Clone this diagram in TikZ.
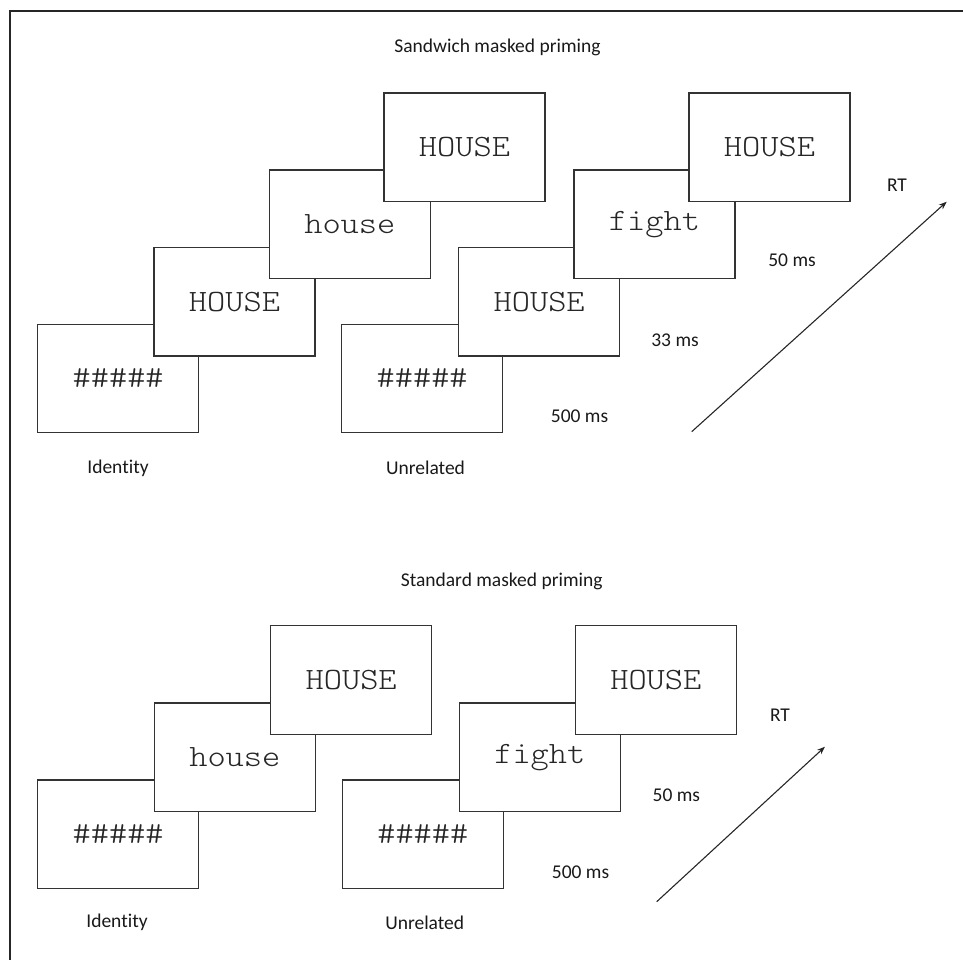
\documentclass[tikz,border=0pt]{standalone}
\usepackage{fontspec}
\setmainfont{Carlito}[Ligatures=NoCommon]
\newfontfamily\monof{lmmonolt10-regular.otf}[FakeStretch=1.12]
\usetikzlibrary{arrows.meta}
\begin{document}
\begin{tikzpicture}[x=1pt,y=-1pt,
  scr/.style={draw=black!80, line width=1.3pt, fill=white, minimum width=161pt, minimum height=108.5pt, inner sep=0pt, font=\monof\fontsize{31}{31}\selectfont, text=black!85, anchor=north west},
  lab/.style={font=\fontsize{19.5}{19.5}\selectfont, inner sep=0pt, text=black!90},
  rt/.style={line width=1.1pt, black!85, -{Stealth[length=8pt,width=6pt]}}]
\useasboundingbox (0,0) rectangle (963,960);
\draw[line width=2pt, black!85] (9.5,960) -- (9.5,10.7) -- (963,10.7);

% Sandwich masked priming
\node[lab] (t1) at (497.5,47.7) {Sandwich masked priming};
% identity
\node[scr] (si1) at (37,323.5) {\#\#\#\#\#};
\node[scr] (si2) at (153.3,246.7) {HOUSE};
\node[scr] (si3) at (268.7,169.3) {house};
\node[scr] (si4) at (383.3,92.3) {HOUSE};
% unrelated
\node[scr] (su1) at (341,323.5) {\#\#\#\#\#};
\node[scr] (su2) at (458,246.7) {HOUSE};
\node[scr] (su3) at (573.3,169.3) {fight};
\node[scr] (su4) at (688.3,92.3) {HOUSE};
\node[lab] (sidl) at (118,468) {Identity};
\node[lab] (sunl) at (425.5,468) {Unrelated};
\node[lab] (s500) at (579.5,416.7) {500 ms};
\node[lab] (s33) at (675,340) {33 ms};
\node[lab] (s50) at (792,260) {50 ms};
\node[lab] (srt) at (897,185) {RT};
\coordinate (sa) at (691.7,431.7);
\coordinate (sb) at (946.7,201.7);
\draw[rt] (sa) -- (sb);

% Standard masked priming
\node[lab] (t2) at (501.7,581) {Standard masked priming};
\node[scr] (ti1) at (37,779.3) {\#\#\#\#\#};
\node[scr] (ti2) at (153.7,702.3) {house};
\node[scr] (ti3) at (270,625) {HOUSE};
\node[scr] (tu1) at (341.7,779.3) {\#\#\#\#\#};
\node[scr] (tu2) at (458.7,702.3) {fight};
\node[scr] (tu3) at (574.7,625) {HOUSE};
\node[lab] (tidl) at (117,922.7) {Identity};
\node[lab] (tunl) at (424.7,922.7) {Unrelated};
\node[lab] (t500) at (580.5,872.3) {500 ms};
\node[lab] (t50) at (676.3,795.7) {50 ms};
\node[lab] (trt) at (780,715.7) {RT};
\coordinate (ta) at (656.7,901.7);
\coordinate (tb) at (825,746.7);
\draw[rt] (ta) -- (tb);
\end{tikzpicture}
\end{document}
